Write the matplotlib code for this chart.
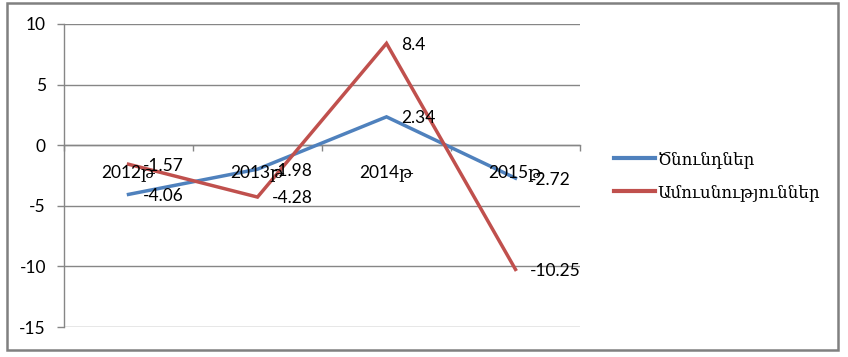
import matplotlib
matplotlib.use("Agg")
import matplotlib.pyplot as plt
from matplotlib.patches import Rectangle
from matplotlib.lines import Line2D
import numpy as np

categories = ["2012թ", "2013թ", "2014թ", "2015թ"]
series_names = ["Ծնունդներ", "Ամուսնություններ"]
births = [-4.06, -1.98, 2.34, -2.72]
marriages = [-1.57, -4.28, 8.4, -10.25]
colors = ["#4F81BD", "#C0504D"]
yticks = [-15, -10, -5, 0, 5, 10]

FAM = ["Lato", "DejaVu Serif"]
FS = 12.5
W, H = 848, 357
fig = plt.figure(figsize=(W / 100, H / 100), dpi=100)

left, right, top, bottom = 64, 580, 24, 327
ax = fig.add_axes([left / W, 1 - bottom / H, (right - left) / W, (bottom - top) / H])
ax.set_xlim(0, len(categories))
ax.set_ylim(-15, 10)

grid_c = "#868686"
for y in yticks:
    ax.axhline(y, color=grid_c, lw=1.0, zorder=1)

for s in ["top", "right"]:
    ax.spines[s].set_visible(False)
ax.spines["left"].set_color(grid_c)
ax.spines["left"].set_linewidth(1.0)
ax.spines["bottom"].set_position(("data", 0))
ax.spines["bottom"].set_color(grid_c)
ax.spines["bottom"].set_linewidth(1.0)

ax.set_yticks(yticks)
ax.set_yticklabels([str(v) for v in yticks], fontfamily=FAM, fontsize=FS)
ax.tick_params(axis="y", length=5, color=grid_c, pad=8, width=1.0)
ax.set_xticks(np.arange(len(categories) + 1))
ax.set_xticklabels([])
ax.tick_params(axis="x", length=4, color=grid_c, width=1.0, direction="out")

xpos = np.arange(len(categories)) + 0.5
for vals, c, name in [(births, colors[0], series_names[0]), (marriages, colors[1], series_names[1])]:
    ax.plot(xpos, vals, color=c, lw=2.5, solid_joinstyle="miter", zorder=3, clip_on=False)

for x, lab in zip(xpos, categories):
    ax.annotate(lab, (x, 0), xytext=(0, -19.5), textcoords="offset points",
                ha="center", va="center", fontsize=FS, family=FAM, zorder=5)

for vals in (births, marriages):
    for x, v in zip(xpos, vals):
        ax.annotate(f"{v:g}", (x, v), xytext=(10.5, -1), textcoords="offset points",
                    ha="left", va="center", fontsize=FS, family=FAM, zorder=6)

handles = [Line2D([], [], color=c, lw=3) for c in colors]
fig.legend(handles, series_names, loc="center left", bbox_to_anchor=(599 / W, 1 - 176 / H),
           frameon=False, prop={"family": FAM, "size": 12.0}, handlelength=2.45,
           handletextpad=0.15, labelspacing=0.95)

fig.patches.append(Rectangle((6.5 / W, 1 - 350 / H), (838 - 6.5) / W, (350 - 3) / H,
                             transform=fig.transFigure, fill=False, edgecolor="#808080", lw=1.8))

fig.savefig("out.png", dpi=100)
